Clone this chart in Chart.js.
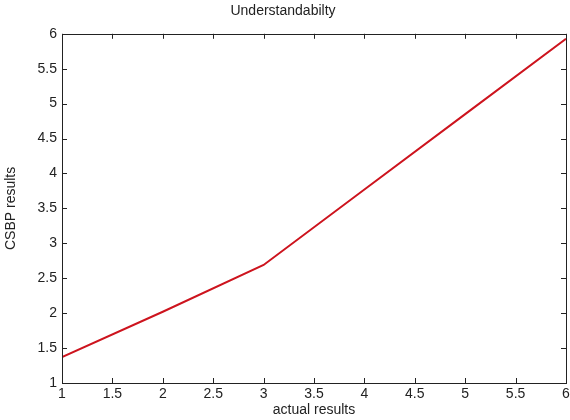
<!DOCTYPE html>
<html>
<head>
<meta charset="utf-8">
<script src="https://cdn.jsdelivr.net/npm/chart.js@4/dist/chart.umd.min.js"></script>
<style>
  html, body { margin: 0; padding: 0; background: #fff; }
  #wrap { width: 570px; height: 420px; }
</style>
</head>
<body>
<div id="wrap"><canvas id="c" width="570" height="420"></canvas></div>
<script>
// values
const xValues = [1, 2, 3, 4, 5, 6];
const yValues = [1.37, 2.02, 2.69, 3.77, 4.85, 5.93];
const tickValues = [1, 1.5, 2, 2.5, 3, 3.5, 4, 4.5, 5, 5.5, 6];
const tickLabels = ["1", "1.5", "2", "2.5", "3", "3.5", "4", "4.5", "5", "5.5", "6"];

const FONT = "'Liberation Sans', Arial, Helvetica, sans-serif";
const INK = "#222";
const SIZE = 14;

// MATLAB-style box with inward ticks on all four sides
const boxTicks = {
  id: "boxTicks",
  afterDraw(chart) {
    const { ctx, chartArea: a, scales } = chart;
    const len = 5;
    ctx.save();
    ctx.strokeStyle = INK;
    ctx.lineWidth = 1;
    ctx.strokeRect(Math.round(a.left) + 0.5, Math.round(a.top) + 0.5,
      Math.round(a.right - a.left), Math.round(a.bottom - a.top));
    ctx.beginPath();
    scales.x.ticks.forEach(t => {
      const px = Math.round(scales.x.getPixelForValue(t.value)) + 0.5;
      ctx.moveTo(px, a.bottom); ctx.lineTo(px, a.bottom - len);
      ctx.moveTo(px, a.top);    ctx.lineTo(px, a.top + len);
    });
    scales.y.ticks.forEach(t => {
      const py = Math.round(scales.y.getPixelForValue(t.value)) + 0.5;
      ctx.moveTo(a.left, py);  ctx.lineTo(a.left + len, py);
      ctx.moveTo(a.right, py); ctx.lineTo(a.right - len, py);
    });
    ctx.stroke();
    ctx.restore();
  },
};

const setTicks = s => { s.ticks = tickValues.map(v => ({ value: v })); };
const tickText = v => tickLabels[tickValues.indexOf(v)] ?? String(v);

new Chart(document.getElementById("c"), {
  type: "line",
  data: {
    datasets: [{
      data: xValues.map((x, i) => ({ x, y: yValues[i] })),
      borderColor: "rgb(205,20,30)",
      borderWidth: 2,
      pointRadius: 0,
      tension: 0,
      fill: false,
    }],
  },
  options: {
    responsive: false,
    animation: false,
    layout: { padding: { left: 0, right: 4, top: 0, bottom: 0 } },
    plugins: {
      legend: { display: false },
      tooltip: { enabled: false },
      title: {
        display: true,
        text: "Understandabilty",
        color: INK,
        font: { family: FONT, size: SIZE, weight: "normal" },
        padding: { top: 3, bottom: 14 },
      },
    },
    scales: {
      x: {
        type: "linear",
        min: 1, max: 6,
        afterBuildTicks: setTicks,
        ticks: { color: INK, font: { family: FONT, size: SIZE }, padding: 3, maxRotation: 0, autoSkip: false, callback: tickText },
        grid: { display: false, drawTicks: false },
        border: { display: false },
        title: { display: true, text: "actual results", color: INK, font: { family: FONT, size: SIZE }, padding: { top: 0, bottom: 1 } },
        afterFit: s => { s.height = 37; s.paddingLeft = 0; s.paddingRight = 0; },
      },
      y: {
        type: "linear",
        min: 1, max: 6,
        afterBuildTicks: setTicks,
        ticks: { color: INK, font: { family: FONT, size: SIZE }, padding: 5, autoSkip: false, callback: tickText },
        grid: { display: false, drawTicks: false },
        border: { display: false },
        title: { display: true, text: "CSBP results", color: INK, font: { family: FONT, size: SIZE }, padding: { top: 3, bottom: 0 } },
        afterFit: s => { s.width = 62; s.paddingTop = 0; s.paddingBottom = 0; },
      },
    },
  },
  plugins: [boxTicks],
});
</script>
</body>
</html>
